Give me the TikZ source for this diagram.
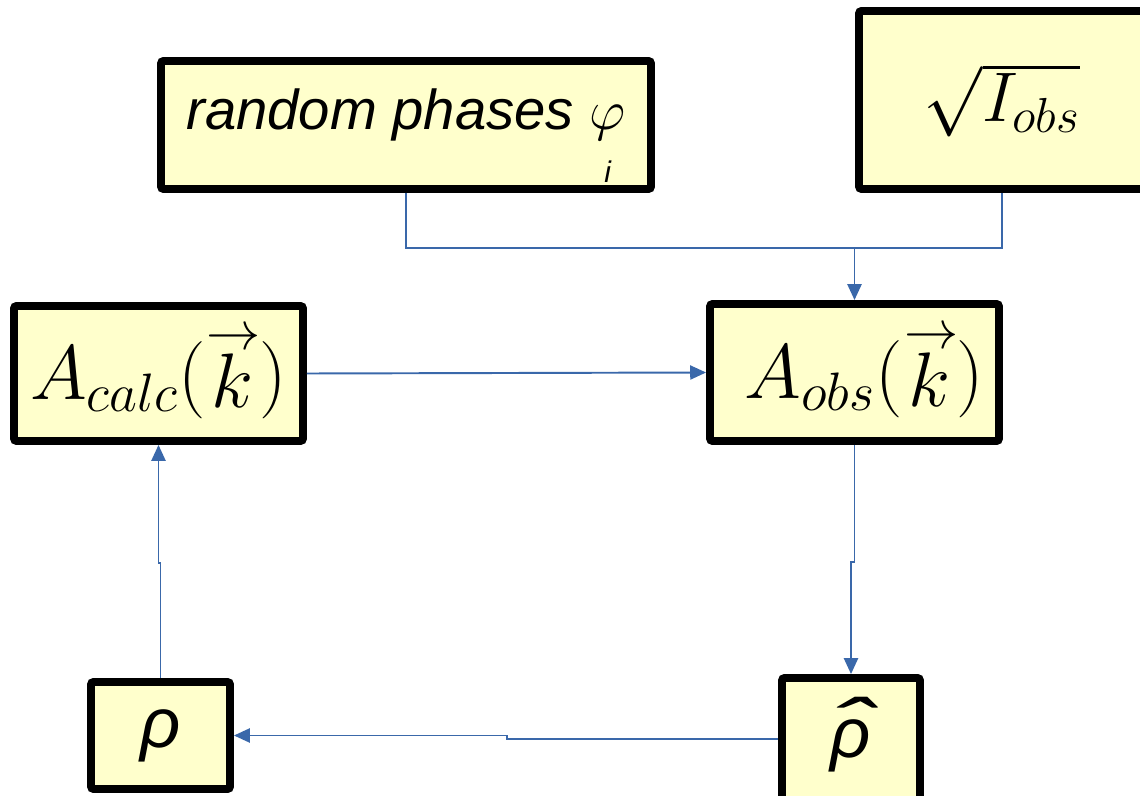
\RequirePackage{fix-cm}
\documentclass[tikz,border=0pt]{standalone}
\usepackage{fontspec}
\setmainfont{Liberation Sans}
\usepackage{tikz}
\usetikzlibrary{arrows.meta}
\definecolor{boxfill}{RGB}{255,255,204}
\definecolor{linkblue}{RGB}{58,104,170}
\tikzstyle{block} = [draw, line width=4.5pt, fill=boxfill, rounded corners=1.5pt, inner sep=0pt]
\tikzstyle{link} = [linkblue, line width=1.1pt]
\newcommand{\kvec}{\stackrel{\rightarrow}{k}}
\newcommand{\hatrho}{\ooalign{ρ\cr\hidewidth\kern0.06em\raisebox{0.06em}{\scalebox{1.8}[1.1]{ˆ}}\hidewidth\cr}}

\begin{document}
\begin{tikzpicture}[>={Triangle[length=9pt,width=8pt]}, font=\fontsize{40}{44}\selectfont\itshape]
    \useasboundingbox (0,0) rectangle (22.8,15.9);

    %inputs
    \node[block, minimum width=9.8cm, minimum height=2.56cm, align=left, font=\fontsize{32}{30}\selectfont\itshape] at (8.12,13.4) (phases) {\rule{0pt}{1.25cm}random phases $\varphi$\\\hspace*{8.36cm}{\fontsize{17}{20}\selectfont i}};
    \node[block, minimum width=5.72cm, minimum height=3.56cm] at (20.04,13.9) (sqrtI) {$\sqrt{I_{obs}}$};
    \coordinate (join) at (17.09,10.94);
    \draw[link] (phases.south) |- (join) -| (sqrtI.south);

    %amplitudes
    \node[block, minimum width=5.78cm, minimum height=2.7cm, font=\fontsize{44}{48}\selectfont] at (3.17,8.43) (Acalc) {$A_{calc}\bigl(\kvec\bigr)$};
    \node[block, minimum width=5.78cm, minimum height=2.74cm, font=\fontsize{44}{48}\selectfont] at (17.09,8.45) (Aobs) {\hspace*{0.4cm}$A_{obs}\bigl(\kvec\bigr)$};
    \draw[link,->] (join) -- (Aobs.north);
    \draw[link,->] (Acalc.east) -- (Aobs.west);

    %densities
    \node[block, minimum width=2.78cm, minimum height=2.14cm] at (3.21,1.19) (rho) {ρ};
    \node[block, minimum width=2.76cm, minimum height=2.44cm] at (17.02,1.12) (rhohat) {\hatrho};
    \draw[link,->] (Aobs.south) -- (Aobs.south |- 0,4.66) -| (rhohat.north);
    \draw[link,->] (rhohat.west) -- (rhohat.west -| 10.14,0) |- (rho.east);
    \draw[link,->] (rho.north) -- (rho.north |- 0,4.64) -| (Acalc.south);

\end{tikzpicture}
\end{document}
